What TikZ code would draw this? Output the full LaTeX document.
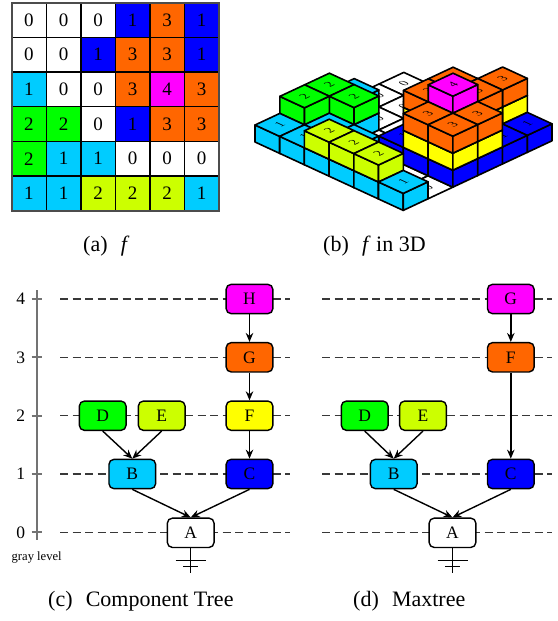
\documentclass[tikz,border=0pt]{standalone}
\usepackage{fontspec}
\setmainfont{Liberation Serif}
\usetikzlibrary{arrows.meta}

\definecolor{lvcyan}{HTML}{00CCFF}
\definecolor{lvblue}{HTML}{0000FF}
\definecolor{lvgreen}{HTML}{00FF00}
\definecolor{lvlime}{HTML}{CCFF00}
\definecolor{lvyellow}{HTML}{FFFF00}
\definecolor{lvorange}{HTML}{FF6600}
\definecolor{lvmagenta}{HTML}{FF00FF}

% digit printed flat on a top face: row, column, height
\newcommand\toplabel[3]{%
  \begin{scope}[shift={(#2+0.5,5.5-#1,#3)}]
    \node[facelabel] (v#1#2) {#3};
  \end{scope}}

% one unit cube of the relief: row, column, level, colour
\newcommand\unitcube[4]{%
  \filldraw[face,fill=#4] (#2,5-#1,#3-1) -- (#2+1,5-#1,#3-1) -- (#2+1,5-#1,#3) -- (#2,5-#1,#3) -- cycle;
  \filldraw[face,fill=#4] (#2+1,5-#1,#3-1) -- (#2+1,6-#1,#3-1) -- (#2+1,6-#1,#3) -- (#2+1,5-#1,#3) -- cycle;
  \filldraw[face,fill=#4] (#2,5-#1,#3) -- (#2+1,5-#1,#3) -- (#2+1,6-#1,#3) -- (#2,6-#1,#3) -- cycle;}

% flat tile of a pixel at level 0: row, column
\newcommand\flattile[2]{%
  \filldraw[face,fill=white] (#2,5-#1,0) -- (#2+1,5-#1,0) -- (#2+1,6-#1,0) -- (#2,6-#1,0) -- cycle;
  \toplabel{#1}{#2}{0}}

\begin{document}
\begin{tikzpicture}[x=1pt,y=-1pt,
  cell/.style={draw=black,line width=1.4pt,minimum width=34.55pt,minimum height=34.67pt,
    inner sep=0pt,outer sep=0pt,font=\fontsize{19}{19}\selectfont},
  face/.style={draw=black,line width=1.6pt,line join=round},
  facelabel/.style={cm={0.919,0.430,-0.915,0.422,(0,0)},transform shape,inner sep=0pt,
    font=\fontsize{12}{12}\selectfont},
  tn/.style={draw=black,line width=1.4pt,rounded corners=5pt,minimum width=46.7pt,
    minimum height=29.3pt,inner sep=0pt,font=\fontsize{17.5}{17.5}\selectfont},
  arr/.style={-{Stealth[length=9pt,width=7.5pt]},line width=1.4pt},
  levelline/.style={black!78,line width=1.4pt,dash pattern=on 8pt off 4.5pt},
  axisline/.style={black!55,line width=1.8pt},
  ground/.style={black,line width=1.4pt},
  levelnum/.style={inner sep=0pt,font=\fontsize{17.5}{17.5}\selectfont},
  caption/.style={anchor=base west,inner sep=0pt,font=\fontsize{22}{22}\selectfont}]

\useasboundingbox (0,0) rectangle (557,621);

% ---------- (a) the image f ----------
\foreach \r/\cells in {
  0/{0/white,0/white,0/white,1/lvblue,3/lvorange,1/lvblue},
  1/{0/white,0/white,1/lvblue,3/lvorange,3/lvorange,1/lvblue},
  2/{1/lvcyan,0/white,0/white,3/lvorange,4/lvmagenta,3/lvorange},
  3/{2/lvgreen,2/lvgreen,0/white,1/lvblue,3/lvorange,3/lvorange},
  4/{2/lvgreen,1/lvcyan,1/lvcyan,0/white,0/white,0/white},
  5/{1/lvcyan,1/lvcyan,2/lvlime,2/lvlime,2/lvlime,1/lvcyan}}{
  \foreach \v/\col [count=\c from 0] in \cells {
    \node[cell,fill=\col] (g\r\c) at ({11.7+34.55*(\c+0.5)},{2.7+34.67*(\r+0.5)}) {\v};
  }
}
\draw[black!70,line width=2pt] (g00.north west) rectangle (g55.south east);
\node[caption] (capa) at (83,251) {(a)\hspace{0.6em}\textit{f}};

% ---------- (b) f drawn as a relief ----------
\begin{scope}[shift={(255pt,-142pt)},x={(24.7pt,-11.4pt)},y={(24.8pt,11.6pt)},z={(0pt,17pt)}]
  \foreach \r/\c in {0/0,0/1,0/2,1/0,1/1,2/1,2/2,3/2,4/3,4/4,4/5}{\flattile{\r}{\c}}
  \foreach \r/\c/\h/\cl in {
    0/3/1/{lvblue}, 0/4/3/{lvblue,lvyellow,lvorange}, 0/5/1/{lvblue},
    1/2/1/{lvblue}, 1/3/3/{lvblue,lvyellow,lvorange}, 1/4/3/{lvblue,lvyellow,lvorange}, 1/5/1/{lvblue},
    2/0/1/{lvcyan}, 2/3/3/{lvblue,lvyellow,lvorange}, 2/4/4/{lvblue,lvyellow,lvorange,lvmagenta},
    2/5/3/{lvblue,lvyellow,lvorange},
    3/0/2/{lvcyan,lvgreen}, 3/1/2/{lvcyan,lvgreen}, 3/3/1/{lvblue},
    3/4/3/{lvblue,lvyellow,lvorange}, 3/5/3/{lvblue,lvyellow,lvorange},
    4/0/2/{lvcyan,lvgreen}, 4/1/1/{lvcyan}, 4/2/1/{lvcyan},
    5/0/1/{lvcyan}, 5/1/1/{lvcyan}, 5/2/2/{lvcyan,lvlime}, 5/3/2/{lvcyan,lvlime},
    5/4/2/{lvcyan,lvlime}, 5/5/1/{lvcyan}}{
    \foreach \col [count=\z] in \cl {\unitcube{\r}{\c}{\z}{\col}}
    \toplabel{\r}{\c}{\h}
  }
\end{scope}
\node[caption] (capb) at (323,251) {(b)\hspace{0.6em}\textit{f} in 3D};

% ---------- gray-level axis and level lines ----------
\draw[axisline] (36.7,290) -- (36.7,540);
\foreach \k/\y in {4/299,3/357.3,2/415.7,1/474,0/532.3}{
  \draw[axisline] (31.7,\y) -- (41.7,\y);
  \node[levelnum] (lev\k) at (20.7,\y) {\k};
  \draw[levelline] (60,\y) -- (290,\y);
  \draw[levelline] (322,\y) -- (552,\y);
}
\node[inner sep=0pt,font=\fontsize{12.6}{12.6}\selectfont] (glabel) at (36.7,557.7) {gray level};

% ---------- (c) component tree ----------
\node[tn,fill=lvmagenta] (cH) at (249.5,299)   {H};
\node[tn,fill=lvorange]  (cG) at (249.5,357.3) {G};
\node[tn,fill=lvyellow]  (cF) at (249.5,415.7) {F};
\node[tn,fill=lvblue]    (cC) at (249.5,474)   {C};
\node[tn,fill=lvgreen]   (cD) at (102.7,415.7) {D};
\node[tn,fill=lvlime]    (cE) at (161.7,415.7) {E};
\node[tn,fill=lvcyan]    (cB) at (132.3,474)   {B};
\node[tn,fill=white]     (cA) at (190.7,532.8) {A};
\draw[arr] (cH.south) -- (cG.north);
\draw[arr] (cG.south) -- (cF.north);
\draw[arr] (cF.south) -- (cC.north);
\draw[arr] (cD.south) -- (cB.north);
\draw[arr] (cE.south) -- (cB.north);
\draw[arr] (cB.south) -- (cA.north);
\draw[arr] (cC.south) -- (cA.north);
\draw[ground] (cA.south) -- ++(0,25);
\draw[ground] ([shift={(-15,12.5)}]cA.south) -- ++(30,0);
\draw[ground] ([shift={(-7.5,18.5)}]cA.south) -- ++(15,0);
\node[caption] (capc) at (48,606) {(c)\hspace{0.6em}Component Tree};

% ---------- (d) max-tree ----------
\node[tn,fill=lvmagenta] (dG) at (510.8,299)   {G};
\node[tn,fill=lvorange]  (dF) at (510.8,357.3) {F};
\node[tn,fill=lvblue]    (dC) at (510.8,474)   {C};
\node[tn,fill=lvgreen]   (dD) at (364.7,415.7) {D};
\node[tn,fill=lvlime]    (dE) at (423,415.7)   {E};
\node[tn,fill=lvcyan]    (dB) at (393.7,474)   {B};
\node[tn,fill=white]     (dA) at (452.5,532.8) {A};
\draw[arr] (dG.south) -- (dF.north);
\draw[arr] (dF.south) -- (dC.north);
\draw[arr] (dD.south) -- (dB.north);
\draw[arr] (dE.south) -- (dB.north);
\draw[arr] (dB.south) -- (dA.north);
\draw[arr] (dC.south) -- (dA.north);
\draw[ground] (dA.south) -- ++(0,25);
\draw[ground] ([shift={(-15,12.5)}]dA.south) -- ++(30,0);
\draw[ground] ([shift={(-7.5,18.5)}]dA.south) -- ++(15,0);
\node[caption] (capd) at (353,606) {(d)\hspace{0.6em}Maxtree};
\end{tikzpicture}
\end{document}
